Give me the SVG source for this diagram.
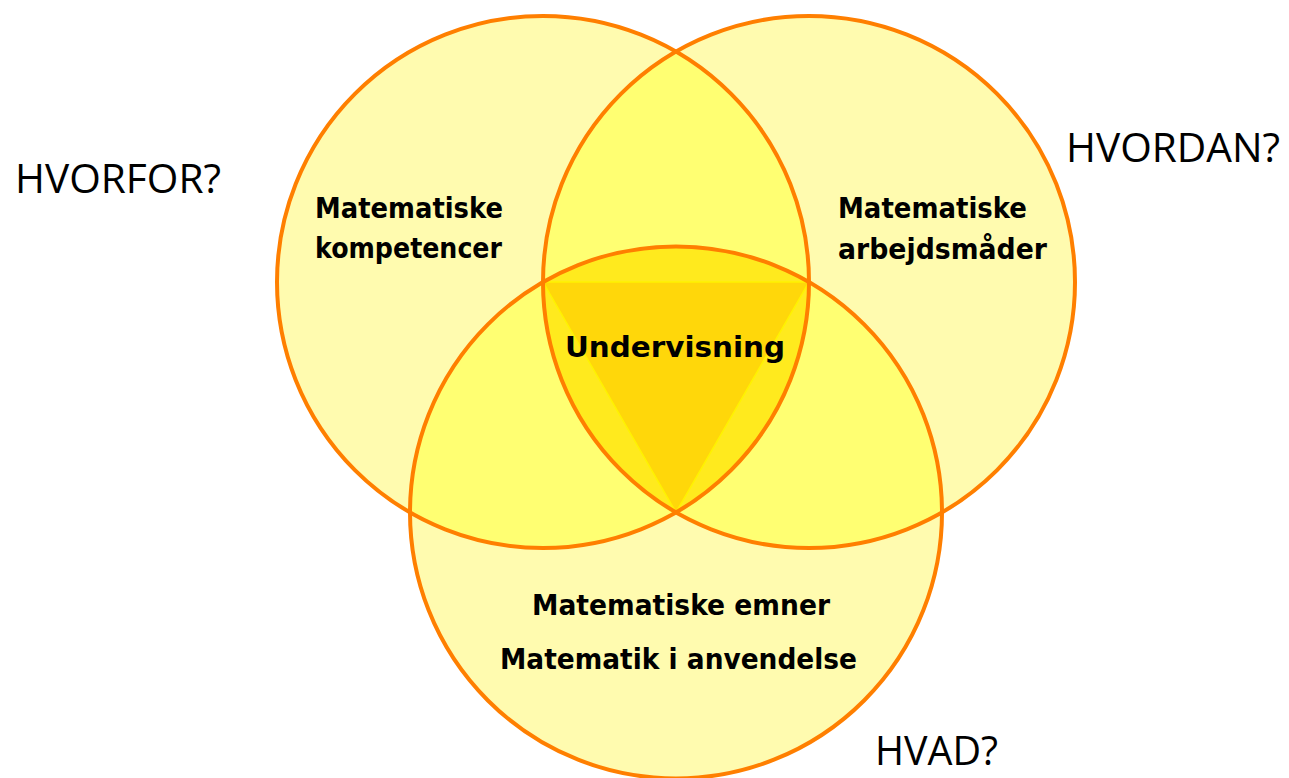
<svg xmlns="http://www.w3.org/2000/svg" width="1289" height="778" viewBox="0 0 1289 778">
  <defs>
    <clipPath id="cA"><circle cx="543" cy="282" r="266"/></clipPath>
    <clipPath id="cB"><circle cx="809" cy="282" r="266"/></clipPath>
    <clipPath id="cC"><circle cx="676" cy="512.4" r="266"/></clipPath>
    <style>
      .base { fill: #FFFBAF; stroke: none; }
      .dbl { fill: #FFFF72; stroke: none; }
      .tri { fill: #FFEA1E; stroke: none; }
      .ring { fill: none; stroke: #FF7F00; stroke-width: 4; }
      .lbl { font-family: "DejaVu Sans", "Liberation Sans", sans-serif; font-weight: bold; font-size: 28.5px; fill: #000; }
      .q { font-family: "Open Sans", "Noto Sans", "Liberation Sans", sans-serif; font-size: 41px; fill: #000; }
    </style>
  </defs>
  <rect width="1289" height="778" fill="#FFFFFF"/>

  <g id="fills">
    <circle class="base" cx="543" cy="282" r="266"/>
    <circle class="base" cx="809" cy="282" r="266"/>
    <circle class="base" cx="676" cy="512.4" r="266"/>
    <g clip-path="url(#cA)"><circle class="dbl" cx="809" cy="282" r="266"/></g>
    <g clip-path="url(#cA)"><circle class="dbl" cx="676" cy="512.4" r="266"/></g>
    <g clip-path="url(#cB)"><circle class="dbl" cx="676" cy="512.4" r="266"/></g>
    <g clip-path="url(#cA)"><g clip-path="url(#cB)"><circle class="tri" cx="676" cy="512.4" r="266"/></g></g>
  </g>

  <g id="undervisning">
    <polygon points="543,282 809,282 676,512.4" fill="#FFD70A" stroke="#FFF200" stroke-width="1.5"/>
    <text class="lbl" x="565" y="357" font-size="37" textLength="220" lengthAdjust="spacingAndGlyphs">Undervisning</text>
  </g>

  <g id="circle-hvorfor">
    <circle class="ring" cx="543" cy="282" r="266"/>
    <text class="lbl" x="315" y="218" textLength="188" lengthAdjust="spacingAndGlyphs">Matematiske</text>
    <text class="lbl" x="315" y="258" textLength="187" lengthAdjust="spacingAndGlyphs">kompetencer</text>
  </g>

  <g id="circle-hvordan">
    <circle class="ring" cx="809" cy="282" r="266"/>
    <text class="lbl" x="838" y="218" textLength="189" lengthAdjust="spacingAndGlyphs">Matematiske</text>
    <text class="lbl" x="838" y="259" textLength="209" lengthAdjust="spacingAndGlyphs">arbejdsmåder</text>
  </g>

  <g id="circle-hvad">
    <circle class="ring" cx="676" cy="512.4" r="266"/>
    <text class="lbl" x="532" y="615" textLength="298" lengthAdjust="spacingAndGlyphs">Matematiske emner</text>
    <text class="lbl" x="500" y="669" textLength="357" lengthAdjust="spacingAndGlyphs">Matematik i anvendelse</text>
  </g>

  <g id="questions">
    <text class="q" x="15" y="193" textLength="206" lengthAdjust="spacingAndGlyphs">HVORFOR?</text>
    <text class="q" x="1066" y="162" textLength="214" lengthAdjust="spacingAndGlyphs">HVORDAN?</text>
    <text class="q" x="875" y="765" textLength="123" lengthAdjust="spacingAndGlyphs">HVAD?</text>
  </g>
</svg>
